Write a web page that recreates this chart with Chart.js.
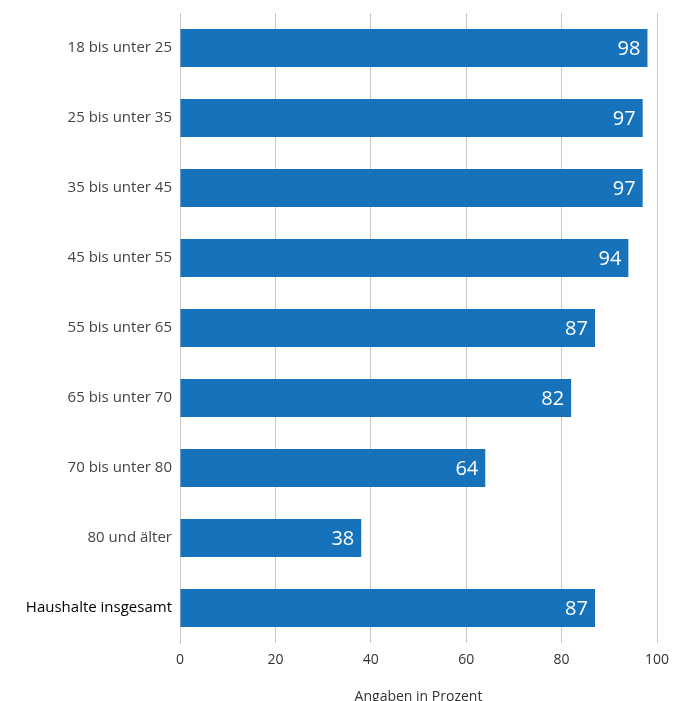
<!doctype html>
<html lang="de">
  <head>
    <meta charset="utf-8">
    <style>
      * { margin: 0; padding: 0; }
      body { background: #fff; width: 675px; height: 701px; overflow: hidden; }
      .chartBox { width: 675px; height: 701px; }
    </style>
  </head>
  <body>
    <div class="chartBox">
      <canvas id="myChart" width="675" height="701"></canvas>
    </div>

    <script src="https://cdn.jsdelivr.net/npm/chart.js/dist/chart.umd.min.js"></script>
    <script>
    // data
    const altersgruppen = ['18 bis unter 25', '25 bis unter 35', '35 bis unter 45', '45 bis unter 55',
      '55 bis unter 65', '65 bis unter 70', '70 bis unter 80', '80 und älter', 'Haushalte insgesamt'];
    const anteile = [98, 97, 97, 94, 87, 82, 64, 38, 87];
    const xTicks = [0, 20, 40, 60, 80, 100];

    const barColor = '#1673bb';
    const fontName = "'Open Sans', sans-serif";

    // white numbers at the end of each bar
    const valueLabels = {
      id: 'valueLabels',
      afterDatasetsDraw(chart) {
        const { ctx } = chart;
        const meta = chart.getDatasetMeta(0);
        ctx.save();
        ctx.font = '20px ' + fontName;
        ctx.fillStyle = '#fff';
        ctx.textAlign = 'right';
        ctx.textBaseline = 'middle';
        meta.data.forEach((bar, i) => {
          ctx.fillText(anteile[i], bar.x - 7, bar.y + 1);
        });
        ctx.restore();
      }
    };

    const config = {
      type: 'bar',
      data: {
        labels: altersgruppen,
        datasets: [{
          data: anteile,
          backgroundColor: barColor,
          borderWidth: 0,
          categoryPercentage: 1,
          barPercentage: 0.545
        }]
      },
      options: {
        responsive: false,
        animation: false,
        indexAxis: 'y',
        layout: { padding: { top: 13, right: 18, left: 0, bottom: 0 } },
        scales: {
          x: {
            min: 0,
            max: 100,
            afterBuildTicks(scale) {
              scale.ticks = xTicks.map(v => ({ value: v }));
            },
            afterFit(scale) {
              scale.height = 58;
              scale.paddingLeft = 0;
              scale.paddingRight = 0;
            },
            grid: { color: '#c8c8c8', lineWidth: 1, drawTicks: false },
            border: { display: false },
            ticks: {
              padding: 9,
              color: '#333',
              font: { family: fontName, size: 14 }
            },
            title: {
              display: true,
              text: 'Angaben in Prozent',
              color: '#333',
              font: { family: fontName, size: 14 },
              padding: { top: 18, bottom: -4 }
            }
          },
          y: {
            afterFit(scale) {
              scale.width = 180;
              scale.paddingTop = 0;
              scale.paddingBottom = 0;
            },
            grid: { display: false },
            border: { display: true, color: '#c8c8c8' },
            ticks: {
              padding: 0,
              color: (c) => c.index === altersgruppen.length - 1 ? '#000' : '#444',
              font: { family: fontName, size: 15 }
            }
          }
        },
        plugins: {
          legend: { display: false },
          tooltip: { enabled: false }
        }
      },
      plugins: [valueLabels]
    };

    const myChart = new Chart(document.getElementById('myChart'), config);
    </script>
  </body>
</html>
